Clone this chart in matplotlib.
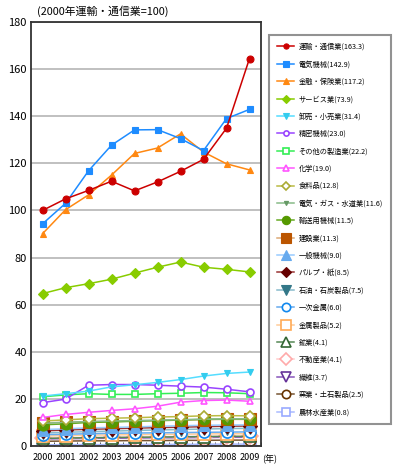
import matplotlib
matplotlib.use('Agg')
import matplotlib.pyplot as plt
import numpy as np

plt.rcParams['font.family'] = ['Noto Sans CJK JP', 'DejaVu Sans']

years = [2000, 2001, 2002, 2003, 2004, 2005, 2006, 2007, 2008, 2009]

transport = [100, 104.9, 108.5, 112.4, 108.3, 112.1, 116.6, 121.7, 134.9, 164.5]
elec_mach = [94.3, 103.0, 116.8, 127.7, 134.2, 134.3, 130.5, 125.4, 139.0, 142.9]
finance = [90.1, 100.3, 106.6, 115.0, 124.2, 126.5, 132.5, 124.8, 119.8, 117.2]
service = [64.7, 67.2, 68.9, 70.8, 73.4, 75.9, 78.1, 75.9, 75.0, 73.9]
trade = [21.2, 22.2, 23.3, 25.1, 26.0, 27.0, 28.2, 29.7, 30.8, 31.4]
precision = [18.4, 19.9, 25.8, 26.1, 26.1, 25.8, 25.4, 25.0, 24.1, 23.0]
other_mfg = [20.9, 21.7, 22.2, 21.9, 21.9, 22.2, 22.4, 22.7, 22.6, 22.2]
chemical = [12.1, 13.4, 14.3, 15.1, 15.8, 16.9, 18.6, 19.3, 19.5, 19.0]
food = [10.6, 11.1, 11.6, 11.8, 12.0, 12.3, 12.5, 12.8, 12.9, 12.8]
utilities = [9.6, 10.1, 10.4, 10.6, 10.8, 11.0, 11.2, 11.4, 11.5, 11.6]
transport_mach = [9.0, 9.4, 10.0, 10.2, 10.5, 10.8, 11.0, 11.3, 11.4, 11.5]
construction = [9.8, 10.0, 10.3, 10.4, 10.6, 10.8, 11.0, 11.2, 11.3, 11.3]
general_mach = [7.0, 7.3, 7.7, 7.9, 8.1, 8.4, 8.6, 8.8, 8.9, 9.0]
pulp = [6.4, 6.8, 7.1, 7.3, 7.6, 7.8, 8.0, 8.2, 8.4, 8.5]
petroleum = [5.5, 5.8, 6.1, 6.3, 6.6, 6.8, 7.0, 7.2, 7.4, 7.5]
primary_metal = [4.8, 5.0, 5.2, 5.4, 5.5, 5.6, 5.7, 5.8, 5.9, 6.0]
metal_prod = [4.2, 4.4, 4.6, 4.7, 4.8, 4.9, 5.0, 5.1, 5.2, 5.2]
mining = [3.2, 3.4, 3.5, 3.6, 3.7, 3.8, 3.9, 4.0, 4.1, 4.1]
real_estate = [3.4, 3.5, 3.6, 3.7, 3.8, 3.9, 4.0, 4.0, 4.1, 4.1]
textile = [3.0, 3.1, 3.2, 3.3, 3.4, 3.5, 3.5, 3.6, 3.7, 3.7]
ceramics = [2.0, 2.1, 2.2, 2.2, 2.3, 2.3, 2.4, 2.4, 2.5, 2.5]
agri = [0.5, 0.55, 0.6, 0.6, 0.65, 0.7, 0.7, 0.75, 0.8, 0.8]

labels = ['運輸・通信業(163.3)', '電気機械(142.9)', '金融・保険業(117.2)', 'サービス業(73.9)',
          '卸売・小売業(31.4)', '精密機械(23.0)', 'その他の製造業(22.2)', '化学(19.0)',
          '食料品(12.8)', '電気・ガス・水道業(11.6)', '輸送用機械(11.5)', '建設業(11.3)',
          '一般機械(9.0)', 'パルプ・紙(8.5)', '石油・石炭製品(7.5)', '一次金属(6.0)',
          '金属製品(5.2)', '鉱業(4.1)', '不動産業(4.1)', '繊維(3.7)',
          '窯業・土石製品(2.5)', '農林水産業(0.8)']

series = [transport, elec_mach, finance, service, trade, precision, other_mfg, chemical,
          food, utilities, transport_mach, construction, general_mach, pulp, petroleum,
          primary_metal, metal_prod, mining, real_estate, textile, ceramics, agri]

# (line colour, marker, marker edge colour, filled?, marker size)
styles = [
    ('#cc0000', 'o', '#cc0000', True, 5),
    ('#1e8cff', 's', '#1e8cff', True, 5),
    ('#ff8811', '^', '#ff8811', True, 5),
    ('#88cc00', 'D', '#88cc00', True, 5),
    ('#55ddff', 'v', '#33ccee', True, 5),
    ('#9944ff', 'o', '#9944ff', False, 5),
    ('#33ee55', 's', '#33ee55', False, 5),
    ('#ff55ff', '^', '#ff55ff', False, 5),
    ('#bbbb44', 'D', '#aaaa33', False, 5),
    ('#88bb88', 'v', '#669966', True, 4),
    ('#66aa22', 'o', '#559900', True, 8),
    ('#ddaa77', 's', '#bb5500', True, 9),
    ('#99ccff', '^', '#66aaee', True, 9),
    ('#993333', 'D', '#660000', True, 7),
    ('#88bbcc', 'v', '#337788', True, 9),
    ('#66aaee', 'o', '#1188ee', False, 8),
    ('#ffcc99', 's', '#ffaa55', False, 9),
    ('#558855', '^', '#336633', False, 9),
    ('#ffcccc', 'D', '#ffaaaa', False, 8),
    ('#8855bb', 'v', '#663399', False, 9),
    ('#775533', 'o', '#663300', False, 8),
    ('#aabbff', 's', '#99aaff', False, 8),
]

fig = plt.figure(figsize=(3.99, 4.70), dpi=100)
ax = fig.add_axes([31/399, 1-446/470, 230/399, 424/470])

# draw bottom series first so the large lines sit under the top ones
for lab, vals, st in reversed(list(zip(labels, series, styles))):
    lc, mk, mc, filled, ms = st
    ax.plot(years, vals, color=lc, lw=1.1, marker=mk, ms=ms,
            mfc=mc if filled else 'white', mec=mc, mew=1.2 if not filled else 0.8,
            label=lab)

ax.set_xlim(1999.5, 2009.5)
ax.set_ylim(0, 180)
ax.set_yticks(np.arange(0, 181, 20))
ax.set_xticks(years)
ax.set_xticks(np.arange(1999.5, 2010, 1), minor=True)
ax.set_xticklabels([str(y) for y in years], fontsize=6.5)
ax.tick_params(axis='x', which='both', direction='in', length=3, pad=5, color='#333333')
ax.tick_params(axis='y', length=0, labelsize=8, pad=3)
ax.grid(axis='y', color='#bbbbbb', lw=1.3)
ax.set_axisbelow(True)
for s in ax.spines.values():
    s.set_color('#333333')
    s.set_linewidth(1.3)

fig.text(262/399, 1-459/470, '(年)', fontsize=6.5, va='center', ha='left')
fig.text(37/399, 1-11/470, '(2000年運輸・通信業=100)', fontsize=7.8, va='center', ha='left')

handles, labs = ax.get_legend_handles_labels()
handles, labs = handles[::-1], labs[::-1]
leg = fig.legend(handles, labs, loc='upper left', bbox_to_anchor=(269/399, 1-35/470),
                 fontsize=5.2, frameon=True, fancybox=False, handlelength=2.4,
                 labelspacing=1.3, borderpad=1.1, handletextpad=0.6, markerscale=0.75,
                 borderaxespad=0)
leg.get_frame().set_edgecolor('#777777')
leg.get_frame().set_linewidth(1.5)

fig.savefig('out.png', dpi=100)
